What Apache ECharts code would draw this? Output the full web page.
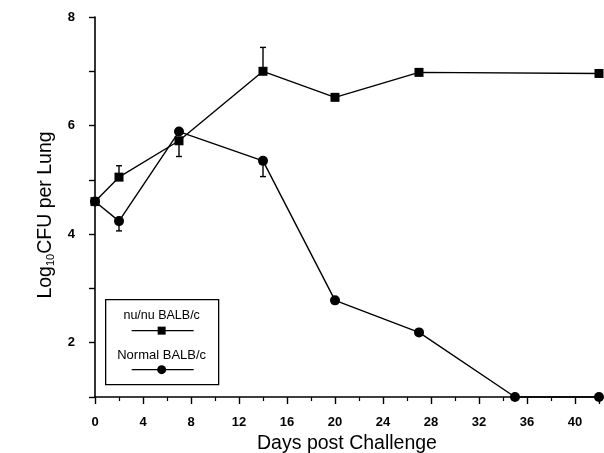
<!DOCTYPE html>
<html>
<head>
<meta charset="utf-8">
<script src="https://cdn.jsdelivr.net/npm/echarts@6/dist/echarts.min.js"></script>
<style>
  html, body { margin: 0; padding: 0; background: #fff; }
  #chart { width: 604px; height: 453px; }
</style>
</head>
<body>
<div id="chart"></div>
<script>
// days post challenge and log10 CFU
const nudeDays = [0, 2, 7, 14, 20, 27, 42];
const nudeCFU = [4.6, 5.05, 5.72, 7.0, 6.52, 6.98, 6.96];
const normalDays = [0, 2, 7, 14, 20, 27, 35, 42];
const normalCFU = [4.6, 4.24, 5.89, 5.35, 2.78, 2.19, 1.0, 1.0];

// one-sided error bars: where the whisker ends
const nudeErrDays = [2, 7, 14];
const nudeErrFrom = [5.05, 5.72, 7.0];
const nudeErrTo = [5.26, 5.43, 7.44];
const normalErrDays = [2, 14];
const normalErrFrom = [4.24, 5.35];
const normalErrTo = [4.06, 5.06];

const font = "Liberation Sans, Arial, sans-serif";

const pairs = (xs, ys) => xs.map((x, i) => [x, ys[i]]);
const errData = (xs, from, to) => xs.map((x, i) => [x, from[i], to[i]]);

const renderErr = (params, api) => {
  const base = api.coord([api.value(0), api.value(1)]);
  const end = api.coord([api.value(0), api.value(2)]);
  const style = { stroke: "#000", lineWidth: 1.4 };
  return {
    type: "group",
    children: [
      { type: "line", shape: { x1: base[0], y1: base[1], x2: end[0], y2: end[1] }, style: style },
      { type: "line", shape: { x1: end[0] - 3, y1: end[1], x2: end[0] + 3, y2: end[1] }, style: style },
    ],
  };
};

const chart = echarts.init(document.getElementById("chart"));
chart.setOption({
  animation: false,
  grid: { left: 95, right: 5, top: 17, bottom: 56, containLabel: false, outerBoundsMode: "none" },
  xAxis: {
    type: "value",
    min: 0,
    max: 42,
    interval: 4,
    name: "Days post Challenge",
    nameLocation: "middle",
    nameGap: 37,
    nameTextStyle: { fontFamily: font, fontSize: 19.5, color: "#000" },
    axisLine: { lineStyle: { color: "#000", width: 1.6 } },
    axisTick: { inside: false, length: 7, lineStyle: { color: "#000", width: 1.4 } },
    minorTick: { show: true, splitNumber: 2, length: 4, lineStyle: { color: "#000", width: 1.2 } },
    axisLabel: {
      margin: 19,
      fontFamily: font,
      fontSize: 13,
      fontWeight: "bold",
      color: "#000",
      formatter: (v) => (v % 4 === 0 ? String(v) : ""),
    },
    splitLine: { show: false },
  },
  yAxis: {
    type: "value",
    min: 1,
    max: 8,
    interval: 1,
    name: "{a|Log}{s|10}{a|CFU per Lung}",
    nameLocation: "middle",
    nameGap: 30,
    nameTextStyle: {
      color: "#000",
      padding: [0, 16, 0, 0],
      rich: {
        a: { fontFamily: font, fontSize: 19.5, color: "#000" },
        s: { fontFamily: font, fontSize: 11, color: "#000", padding: [11, 0, 0, 0] },
      },
    },
    axisLine: { show: true, lineStyle: { color: "#000", width: 1.6 } },
    axisTick: { show: true, length: 6, lineStyle: { color: "#000", width: 1.4 } },
    axisLabel: {
      margin: 20,
      fontFamily: font,
      fontSize: 13,
      fontWeight: "bold",
      color: "#000",
      formatter: (v) => (v % 2 === 0 ? String(v) : ""),
    },
    splitLine: { show: false },
  },
  series: [
    {
      name: "nu/nu BALB/c",
      type: "line",
      data: pairs(nudeDays, nudeCFU),
      symbol: "rect",
      symbolSize: 9,
      clip: false,
      lineStyle: { color: "#000", width: 1.4 },
      itemStyle: { color: "#000" },
    },
    {
      name: "Normal BALB/c",
      type: "line",
      data: pairs(normalDays, normalCFU),
      symbol: "circle",
      symbolSize: 10,
      clip: false,
      lineStyle: { color: "#000", width: 1.4 },
      itemStyle: { color: "#000" },
    },
    { type: "custom", renderItem: renderErr, data: errData(nudeErrDays, nudeErrFrom, nudeErrTo), z: 1 },
    { type: "custom", renderItem: renderErr, data: errData(normalErrDays, normalErrFrom, normalErrTo), z: 1 },
  ],
  graphic: [
    {
      type: "group",
      left: 105,
      top: 299,
      children: [
        { type: "rect", shape: { x: 0, y: 0, width: 113, height: 85 }, style: { fill: "#fff", stroke: "#000", lineWidth: 1.3 } },
        { type: "text", x: 56, y: 16, style: { text: "nu/nu BALB/c", fontFamily: font, fontSize: 12.5, fill: "#000", align: "center", verticalAlign: "middle" } },
        { type: "line", shape: { x1: 26, y1: 31, x2: 88, y2: 31 }, style: { stroke: "#000", lineWidth: 1.3 } },
        { type: "rect", shape: { x: 52, y: 27, width: 8, height: 8 }, style: { fill: "#000" } },
        { type: "text", x: 56, y: 56, style: { text: "Normal BALB/c", fontFamily: font, fontSize: 13, fill: "#000", align: "center", verticalAlign: "middle" } },
        { type: "line", shape: { x1: 26, y1: 70, x2: 88, y2: 70 }, style: { stroke: "#000", lineWidth: 1.3 } },
        { type: "circle", shape: { cx: 56, cy: 70, r: 4.5 }, style: { fill: "#000" } },
      ],
    },
  ],
});

window.onresize = function () {
  chart.resize();
};
</script>
</body>
</html>
